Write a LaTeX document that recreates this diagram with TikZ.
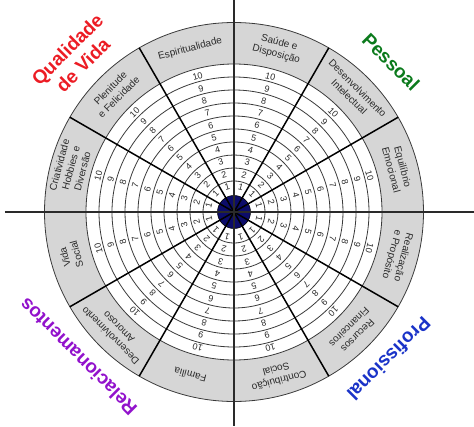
\documentclass[tikz,border=0pt]{standalone}
\usepackage{fontspec}
\setsansfont{Liberation Sans}
\definecolor{ink}{HTML}{2A2A2A}
\definecolor{ringcolor}{HTML}{3A3A3A}
\definecolor{band}{HTML}{D6D6D6}
\definecolor{hub}{HTML}{0C0C6A}
\definecolor{cred}{HTML}{EC1C24}
\definecolor{cgreen}{HTML}{0B7A1C}
\definecolor{cblue}{HTML}{1A33C8}
\definecolor{cpurple}{HTML}{9212CC}

\begin{document}
\begin{tikzpicture}[x=1pt, y=1pt,
    every node/.style={font=\sffamily},
    area/.style={font=\sffamily\fontsize{10}{12}\selectfont, text=ink,
                 align=center, inner sep=0pt},
    num/.style={font=\sffamily\fontsize{9}{9}\selectfont, text=ink, inner sep=0pt},
    grp/.style={font=\sffamily\bfseries\fontsize{19}{22}\selectfont,
                align=center, inner sep=0pt},
    ringline/.style={draw=ringcolor, line width=0.8pt},
    spoke/.style={draw=black, line width=1.5pt},
    axis/.style={draw=ink, line width=1.8pt},
]
\useasboundingbox (-234,-214) rectangle (240,212);

% ================================================================ the wheel
\coordinate (o) at (0,0);
\fill[band] (o) circle (189.5);
\fill[white] (o) circle (148);
\foreach \k in {1,...,10}
  \draw[ringline] (o) circle ({18+13*\k});
\draw[ringline] (o) circle (189.5);

\node[circle, fill=hub, draw=black, line width=0.6pt, minimum size=33pt,
      inner sep=0pt] (hb) at (o) {};

\foreach \a in {30,60,120,150,210,240,300,330}
  \draw[spoke] (hb.center) -- (\a:189.5);

\coordinate (ax-w) at (-229,0);
\coordinate (ax-e) at (240,0);
\coordinate (ax-n) at (0,212);
\coordinate (ax-s) at (0,-214);
\draw[axis] (ax-w) -- (ax-e);
\draw[axis] (ax-n) -- (ax-s);

% the scale 1 ... 10 in every sector
\foreach \a in {15,45,...,345}
  \foreach \k in {1,...,10}
    \node[num, rotate=\a-90] (n\a-\k) at (\a:{26+12.7*(\k-1)}) {\k};

% ============================================================ sector names
\foreach \a/\t [count=\i] in {
    75/{Saúde e\\Disposição},
    105/{Espiritualidade},
    135/{Plenitude\\e Felicidade},
    165/{Criatividade\\Hobbies e\\Diversão},
    195/{Vida\\Social},
    225/{Desenvolvimento\\Amoroso},
    255/{Família},
    285/{Contribuição\\Social},
    315/{Recursos\\Financeiros},
    345/{Realização\\e Propósito},
    15/{Equilíbrio\\Emocional},
    45/{Desenvolvimento\\Intelectual}}
  \node[area, rotate=\a-90] (s\i) at (\a:169) {\t};

% ================================================================== groups
\node[grp, text=cred,    rotate=45]   (qv)  at (-159,155) {Qualidade\\de Vida};
\node[grp, text=cgreen,  rotate=-45]  (pes) at (157,150)  {Pessoal};
\node[grp, text=cblue,   rotate=-135] (pro) at (155,-147) {Profissional};
\node[grp, text=cpurple, rotate=135]  (rel) at (-156,-145) {Relacionamentos};

\end{tikzpicture}
\end{document}
